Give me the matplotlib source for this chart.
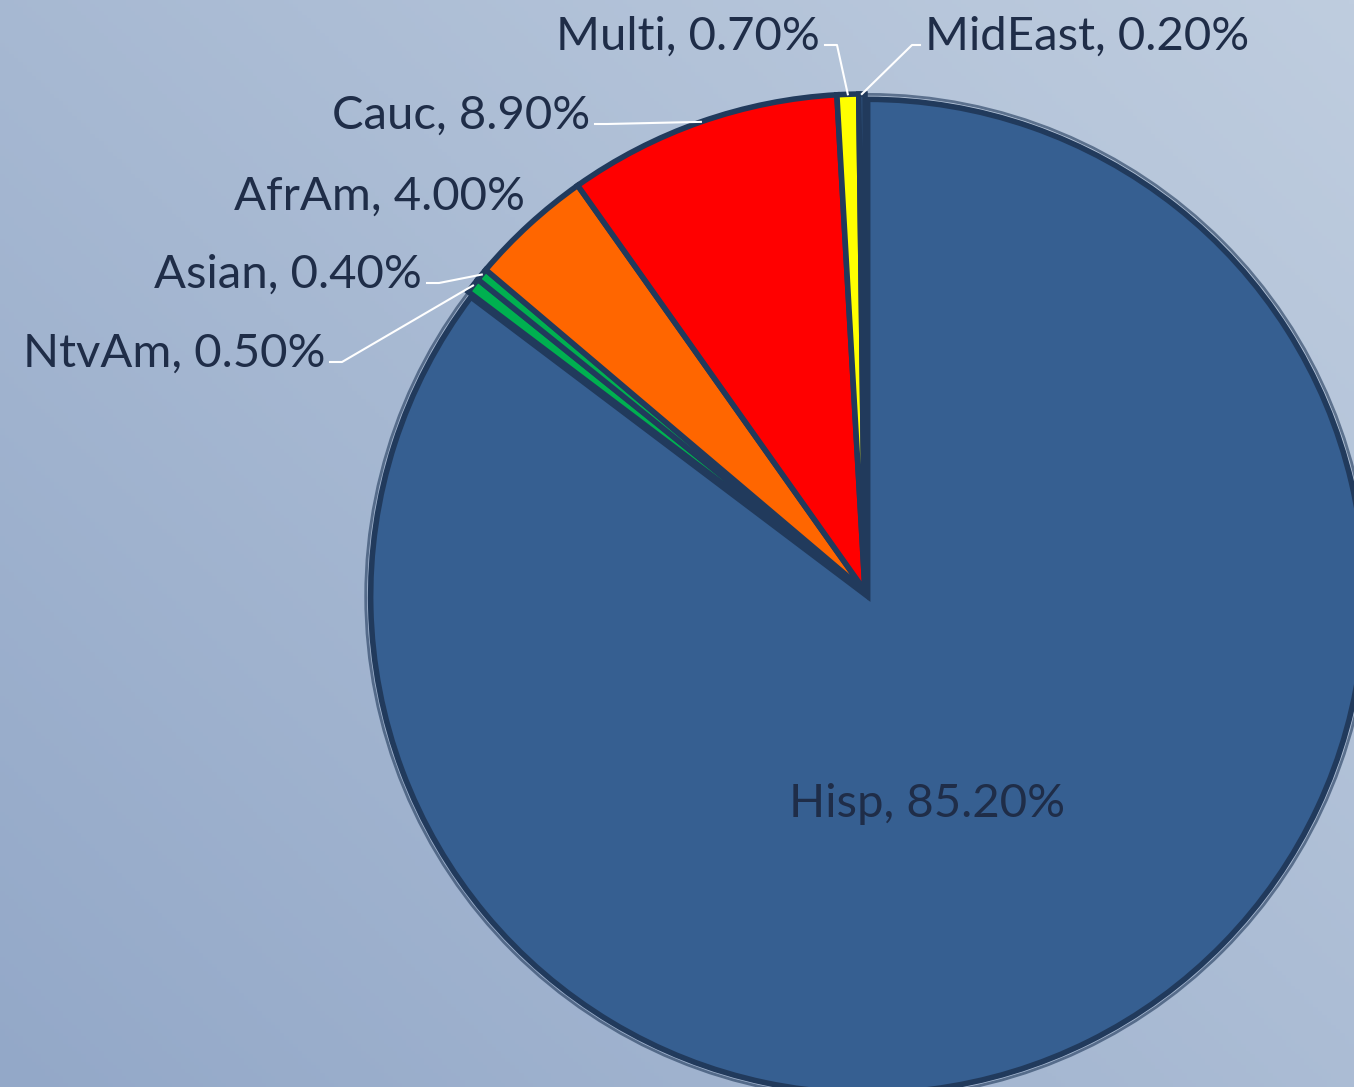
import numpy as np
import matplotlib.pyplot as plt
from matplotlib.patches import Circle

# data, clockwise from 12 o'clock
groups = ["Hisp", "NtvAm", "Asian", "AfrAm", "Cauc", "Multi", "MidEast"]
shares = [85.2, 0.5, 0.4, 4.0, 8.9, 0.7, 0.2]
colors = ["#365F91", "#00B050", "#00B050", "#FF6600", "#FF0000", "#FFFF00", "#365F91"]

# label layout in pixels: (x, baseline y, alignment), leader or not
W, H = 1354, 1087
CX, CY, R = 865, 591, 497
label_px = {
    "Hisp": (927, 817, "center"),
    "NtvAm": (325, 367, "right"),
    "Asian": (422, 288, "right"),
    "AfrAm": (525, 210, "right"),
    "Cauc": (590, 129, "right"),
    "Multi": (820, 50, "right"),
    "MidEast": (925, 50, "left"),
}
with_leader = ["NtvAm", "Asian", "Cauc", "Multi", "MidEast"]
text_color = "#1F2D48"
edge_color = "#213A5C"


def to_data(px, py):
    return (px - CX) / R, (CY - py) / R


fig = plt.figure(figsize=(W / 100, H / 100), dpi=100)
ax = fig.add_axes([0, 0, 1, 1])
ax.set_xlim(-CX / R, (W - CX) / R)
ax.set_ylim(-(H - CY) / R, CY / R)
ax.axis("off")

# soft blue-grey backdrop, lighter towards top right
gx, gy = np.meshgrid(np.linspace(0, 1, 300), np.linspace(0, 1, 300))
shade = 0.55 * gx + 0.45 * gy
c0 = np.array([0x93, 0xA8, 0xC8]) / 255
c1 = np.array([0xBF, 0xCD, 0xDF]) / 255
bg = c0 + shade[..., None] * (c1 - c0)
ax.imshow(bg, extent=[*ax.get_xlim(), *ax.get_ylim()], origin="lower",
          aspect="auto", zorder=0)

wedges, _ = ax.pie(shares, colors=colors, startangle=90, counterclock=False,
                   radius=1.0, explode=[0.012] + [0] * 6,
                   wedgeprops=dict(edgecolor=edge_color, linewidth=4))
for w in wedges:
    w.set_zorder(2)
ax.add_patch(Circle((0.012 * np.cos(np.deg2rad(-63.4)), 0.012 * np.sin(np.deg2rad(-63.4))),
                    1.01, fill=False, edgecolor=edge_color, linewidth=2, alpha=0.6, zorder=1))
ax.set_xlim(-CX / R, (W - CX) / R)
ax.set_ylim(-(H - CY) / R, CY / R)

for g, s, w in zip(groups, shares, wedges):
    px, py, ha = label_px[g]
    tx, ty = to_data(px, py)
    ax.text(tx, ty, f"{g}, {s:.2f}%", ha=ha, va="baseline", fontsize=34,
            family="Lato", color=text_color, zorder=5)
    if g in with_leader:
        mid = np.deg2rad((w.theta1 + w.theta2) / 2)
        ex, ey = np.cos(mid), np.sin(mid)
        if ha == "right":
            x0, _ = to_data(px + 5, py)
            x1, _ = to_data(px + 17, py)
        else:
            x0, _ = to_data(px - 5, py)
            x1, _ = to_data(px - 13, py)
        _, yl = to_data(px, py - 5)
        ax.plot([x0, x1, ex], [yl, yl, ey], color="white", linewidth=1.5, zorder=4)

fig.savefig("out.png", dpi=100)
